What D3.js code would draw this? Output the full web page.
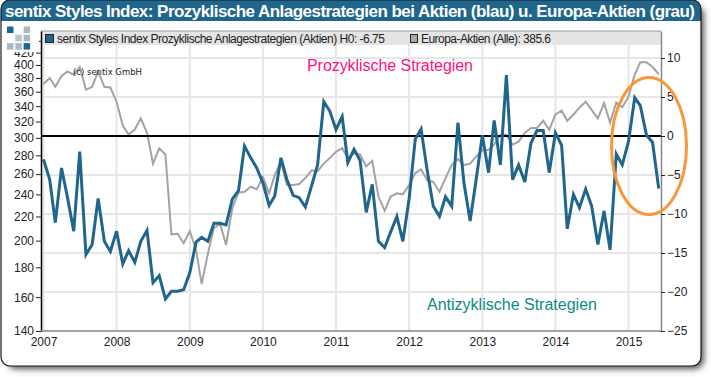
<!DOCTYPE html>
<html><head><meta charset="utf-8">
<script src="https://cdn.jsdelivr.net/npm/d3@7"></script>
<style>html,body{margin:0;padding:0;background:#fff}svg{display:block}text{font-family:"Liberation Sans",Arial,sans-serif}</style>
</head><body><svg id="c" width="711" height="377"></svg>
<script>
const titleText = "sentix Styles Index: Prozyklische Anlagestrategien bei Aktien (blau) u. Europa-Aktien (grau)";
const legendBlue = "sentix Styles Index Prozyklische Anlagestrategien (Aktien) H0: -6.75";
const legendGrey = "Europa-Aktien (Alle): 385.6";
const yearTicks = [2007,2008,2009,2010,2011,2012,2013,2014,2015];
const leftTicks = [140,160,180,200,220,240,260,280,300,320,340,360,380,400,420,440];
const leftLabelled = [140,160,180,200,220,240,260,280,300,320,340,360,380,400,420];
const rightTicks = [10,5,0,-5,-10,-15,-20,-25];
const styleIndex = [-3.0,-5.6,-11.1,-4.1,-7.9,-12.2,-2.0,-15.2,-13.9,-8.0,-13.5,-14.8,
 -12.2,-16.4,-14.7,-16.2,-13.5,-12.1,-18.8,-17.9,-20.9,-19.9,-19.9,-19.7,
 -17.5,-13.6,-13.0,-13.5,-11.2,-11.2,-11.4,-8.1,-7.0,-1.3,-2.8,-4.1,
 -6.0,-8.9,-7.7,-2.8,-5.6,-7.6,-7.9,-9.1,-6.4,-3.7,4.4,3.2,
 0.8,2.5,-3.4,-1.7,-3.1,-9.8,-6.2,-13.5,-14.3,-12.3,-10.3,-13.5,
 -8.1,-0.4,0.9,-4.5,-9.0,-10.3,-7.8,-9.0,1.7,-6.0,-10.9,-5.6,
 0.1,-4.7,2.0,-3.7,7.8,-5.6,-3.7,-5.9,-0.9,0.7,0.7,-4.7,
 0.4,-1.2,-11.9,-7.5,-9.2,-6.8,-9.0,-13.9,-9.6,-14.6,-2.3,-3.7,
 -0.7,4.9,3.9,0.1,-0.8,-6.75];
const europeShares = [371,380,367,383,390,385,397,363,367,390,367,366,
 346,315,304,310,324,306,271,288,281,205,205.5,198,
 207.5,193,168.5,190,210,214,196.6,227.5,241.6,242.6,247.4,245,
 257,241,259,273,249,249,250,256,264,263,271,277,
 284,288,277,282,281,268,274,238,225,238,241,240,
 249,261,265,254,252,242.6,256,269.5,276,269.5,271,278.5,
 286,286,292,303.6,303.6,292,295.6,306,312,312,321,309.6,
 329,334,321,329,338,346,335,324,344,318.7,345,338.6,
 353,385,404.4,404.4,397,385.6];
const months = d3.timeMonth.range(new Date(2007,0,1), new Date(2015,6,1));

const L=41,R=661,T=31,B=331,LEG=45;
const x = d3.scaleTime().domain([new Date(2007,0,1),new Date(2015,0,1)]).range([43.5,628.5]);
const yL = d3.scaleLog().domain([140,140*Math.exp(300/253.4)]).range([B,T]);
const yR = d3.scaleLinear().domain([-25,300/7.8-25]).range([B,T]);
const svg = d3.select("#c");

const defs = svg.append("defs");
defs.append("filter").attr("id","sh").attr("x","-5%").attr("y","-5%").attr("width","110%").attr("height","110%")
  .append("feGaussianBlur").attr("stdDeviation",3);
const clip = defs.append("clipPath").attr("id","panel");
clip.append("rect").attr("x",1).attr("y",0).attr("width",700).attr("height",366).attr("rx",9);

// frame
svg.append("rect").attr("x",7).attr("y",6).attr("width",697).attr("height",363).attr("rx",9).attr("fill","#555").attr("filter","url(#sh)");
svg.append("rect").attr("x",1).attr("y",0).attr("width",700).attr("height",366).attr("rx",9).attr("fill","#fff");
svg.append("rect").attr("x",1).attr("y",0).attr("width",700).attr("height",21).attr("fill","#20658c").attr("clip-path","url(#panel)");
svg.append("rect").attr("x",1).attr("y",0).attr("width",700).attr("height",366).attr("rx",9).attr("fill","none").attr("stroke","#1a1a1a").attr("stroke-width",1.2);
svg.append("text").attr("x",5).attr("y",17).attr("fill","#fff").attr("font-weight","bold").attr("font-size",17)
  .attr("textLength",690).attr("lengthAdjust","spacing").text(titleText);

// grid
const grid = svg.append("g").attr("stroke","#e6e6e6").attr("stroke-width",2);
grid.selectAll("line.v").data(yearTicks).join("line").attr("class","v")
  .attr("x1",d=>x(new Date(d,0,1))).attr("x2",d=>x(new Date(d,0,1))).attr("y1",LEG).attr("y2",B);
grid.selectAll("line.h").data(rightTicks.filter(d=>d>-25&&d!==0)).join("line").attr("class","h")
  .attr("x1",L).attr("x2",R).attr("y1",d=>yR(d)).attr("y2",d=>yR(d));

// legend strip
svg.append("rect").attr("x",L).attr("y",T).attr("width",R-L).attr("height",LEG-T).attr("fill","#e4e4e4");
svg.append("path").attr("d",`M${L},${T}H${R}`).attr("stroke","#999").attr("stroke-width",1).attr("fill","none");
svg.append("rect").attr("x",45.5).attr("y",34.5).attr("width",8).attr("height",8).attr("fill","#20658c").attr("stroke","#222");
svg.append("text").attr("x",57).attr("y",43).attr("font-size",12).attr("fill","#222").attr("textLength",328).text(legendBlue);
svg.append("rect").attr("x",410.5).attr("y",34.5).attr("width",7).attr("height",8).attr("fill","#aaa").attr("stroke","#222");
svg.append("text").attr("x",421).attr("y",43).attr("font-size",12).attr("fill","#222").attr("textLength",130).text(legendGrey);

// lines
const line = (y)=>d3.line().x((d,i)=>x(months[i])).y(d=>y(d));
svg.append("path").datum(europeShares).attr("d",line(yL)).attr("fill","none").attr("stroke","#a3a3a3").attr("stroke-width",2);
svg.append("path").attr("d",`M${L},${yR(0)}H${R}`).attr("stroke","#000").attr("stroke-width",2);
svg.append("path").datum(styleIndex).attr("d",line(yR)).attr("fill","none").attr("stroke","#20658c").attr("stroke-width",3).attr("stroke-linejoin","miter");

// axes
const gL = svg.append("g").attr("transform",`translate(${L},0)`).call(d3.axisLeft(yL).tickValues(leftTicks).tickFormat(d=>leftLabelled.includes(d)?String(d):"").tickSize(5).tickSizeOuter(0));
const gR = svg.append("g").attr("transform",`translate(${R},0)`).call(d3.axisRight(yR).tickValues(rightTicks).tickSize(4).tickSizeOuter(0));
const gB = svg.append("g").attr("transform",`translate(0,${B})`).call(d3.axisBottom(x).tickValues(yearTicks.map(d=>new Date(d,0,1))).tickFormat(d3.timeFormat("%Y")).tickSize(0).tickPadding(6));
[gL,gR,gB].forEach(g=>{g.selectAll("text").attr("font-size",12).attr("fill","#222").style("font-family",'"Liberation Sans",Arial,sans-serif');});
gL.select(".domain").attr("stroke","#000").attr("stroke-width",1.5);
gL.selectAll(".tick line").attr("stroke","#222");
gL.selectAll(".tick text").attr("x",-7);
gL.selectAll(".tick text").filter(d=>!leftLabelled.includes(d)).remove();
gR.select(".domain").attr("stroke","#888").attr("stroke-width",1.5);
gR.selectAll(".tick line").attr("stroke","#222").attr("x1",0);
gR.selectAll(".tick text").attr("x",6);
gB.select(".domain").attr("stroke","#888").attr("stroke-width",1.5).attr("d",`M${L},0H${R}`);

// logo patch trims the top label as in the reference
svg.append("rect").attr("x",3).attr("y",22).attr("width",36).attr("height",30).attr("fill","#fff");
const logo = [[0,0,"#20658c"],[2,0,"#a9b8c2"],[1,1,"#b9c4cb"],[2,1,"#a9b8c2"],[0,2,"#a9b8c2"],[1,2,"#a9b8c2"],[2,2,"#20658c"]];
svg.append("g").selectAll("rect").data(logo).join("rect")
  .attr("x",d=>7+d[0]*8.3).attr("y",d=>26.5+d[1]*8.3).attr("width",6.5).attr("height",6.5).attr("fill",d=>d[2]);

// annotations
svg.append("text").attr("x",73).attr("y",74.5).attr("font-size",8.5).attr("fill","#222").attr("textLength",69).style("font-family","DejaVu Sans").text("(c) sentix GmbH");
svg.append("text").attr("x",307).attr("y",71).attr("font-size",16).attr("fill","#ff1080").attr("textLength",166).text("Prozyklische Strategien");
svg.append("text").attr("x",427).attr("y",310).attr("font-size",16).attr("fill","#0a8a85").attr("textLength",170).text("Antizyklische Strategien");
svg.append("ellipse").attr("cx",649).attr("cy",146).attr("rx",37.5).attr("ry",68.5).attr("fill","none").attr("stroke","#f7993a").attr("stroke-width",3);
</script></body></html>
